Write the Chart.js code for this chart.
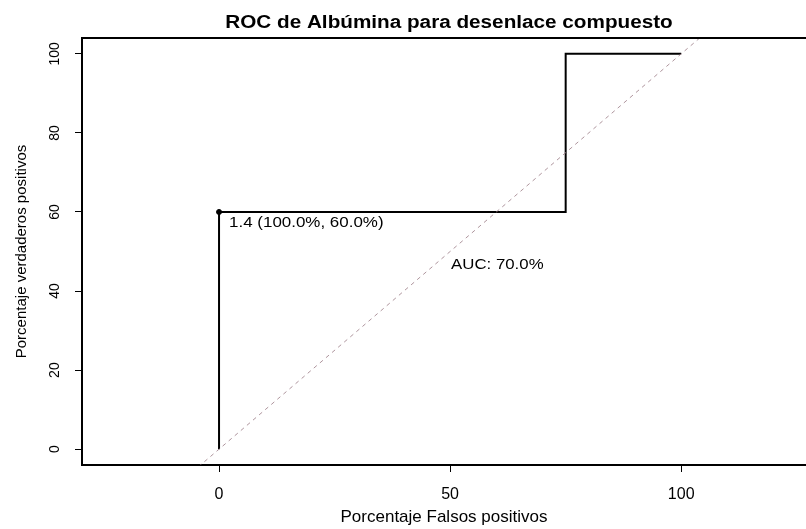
<!DOCTYPE html>
<html>
<head>
<meta charset="utf-8">
<title>ROC de Albúmina</title>
<script src="https://cdn.jsdelivr.net/npm/chart.js@4/dist/chart.umd.min.js"></script>
<style>
  html, body { margin: 0; padding: 0; background: #fff; overflow: hidden; }
  #roc { display: block; }
</style>
</head>
<body>
<canvas id="roc" width="806" height="529"></canvas>
<script>
// curva ROC: % falsos positivos vs % verdaderos positivos
const fpr = [0, 0, 75, 75, 100];
const tpr = [0, 60, 60, 100, 100];
// diagonal de referencia
const refX = [-40, 140];
const refY = [-40, 140];
// mejor umbral
const thresX = [0];
const thresY = [60];
const thresLabel = '1.4 (100.0%, 60.0%)';
const aucLabel = 'AUC: 70.0%';
const aucX = 50;
const aucY = 50;
const xTicks = [0, 50, 100];
const yTicks = [0, 20, 40, 60, 80, 100];

const titleText = 'ROC de Albúmina para desenlace compuesto';
const FONT = '"Liberation Sans", Arial, sans-serif';

const toPoints = (xs, ys) => xs.map((v, i) => ({x: v, y: ys[i]}));

// texto algo ensanchado, como sale en la figura original
function wideText(ctx, text, x, y, sx) {
    ctx.save();
    ctx.translate(x, y);
    ctx.scale(sx, 1);
    ctx.fillText(text, 0, 0);
    ctx.restore();
}

// borde superior, etiquetas del eje y, anotaciones y título
const extras = {
    id: 'extras',
    afterDraw(chart) {
        const {ctx, chartArea: a, scales: {x, y}} = chart;
        ctx.save();
        ctx.strokeStyle = '#000';
        ctx.lineWidth = 2;
        ctx.beginPath();
        ctx.moveTo(a.left - 1, a.top);
        ctx.lineTo(chart.width, a.top);
        ctx.stroke();

        ctx.fillStyle = '#000';
        ctx.font = '14px ' + FONT;
        ctx.textAlign = 'center';
        ctx.textBaseline = 'middle';
        y.ticks.forEach(t => {
            ctx.save();
            ctx.translate(y.right - 27, y.getPixelForValue(t.value));
            ctx.rotate(-Math.PI / 2);
            ctx.fillText(String(t.value), 0, 0);
            ctx.restore();
        });

        ctx.font = '15px ' + FONT;
        ctx.textAlign = 'left';
        ctx.textBaseline = 'alphabetic';
        wideText(ctx, thresLabel, x.getPixelForValue(thresX[0]) + 10, y.getPixelForValue(thresY[0]) + 15, 1.13);
        wideText(ctx, aucLabel, x.getPixelForValue(aucX) + 1, y.getPixelForValue(aucY) + 17, 1.12);

        ctx.font = 'bold 18px ' + FONT;
        ctx.textAlign = 'center';
        wideText(ctx, titleText, 449, 28, 1.15);
        ctx.restore();
    }
};

new Chart(document.getElementById('roc'), {
    type: 'scatter',
    data: {
        datasets: [
            {
                label: 'Referencia',
                data: toPoints(refX, refY),
                showLine: true,
                borderColor: 'rgba(160, 130, 140, 0.85)',
                borderWidth: 1,
                borderDash: [4, 4],
                pointRadius: 0
            },
            {
                label: 'ROC',
                data: toPoints(fpr, tpr),
                showLine: true,
                borderColor: '#000',
                borderWidth: 2,
                pointRadius: 0
            },
            {
                label: 'Umbral',
                data: toPoints(thresX, thresY),
                pointRadius: 2.5,
                pointBackgroundColor: '#000',
                pointBorderColor: '#000'
            }
        ]
    },
    options: {
        responsive: false,
        animation: false,
        layout: { autoPadding: false, padding: { top: 38, right: 0, bottom: 0, left: 0 } },
        plugins: {
            legend: { display: false },
            tooltip: { enabled: false }
        },
        scales: {
            x: {
                type: 'linear',
                min: -29.65,
                max: 127,
                afterBuildTicks: s => { s.ticks = xTicks.map(v => ({value: v})); },
                afterFit: s => { s.height = 64; },
                grid: { drawOnChartArea: false, drawTicks: true, tickLength: 7, color: '#000', lineWidth: 1 },
                border: { color: '#000', width: 2 },
                ticks: { color: '#000', padding: 13, font: { family: FONT, size: 16 }, maxRotation: 0 },
                title: {
                    display: true,
                    text: 'Porcentaje Falsos positivos',
                    color: '#000',
                    font: { family: FONT, size: 17 },
                    padding: { top: 0, bottom: 1 }
                }
            },
            y: {
                type: 'linear',
                min: -4,
                max: 104,
                afterBuildTicks: s => { s.ticks = yTicks.map(v => ({value: v})); },
                afterFit: s => { s.width = 82; },
                grid: { drawOnChartArea: false, drawTicks: true, tickLength: 7, color: '#000', lineWidth: 1 },
                border: { color: '#000', width: 2 },
                ticks: { display: false },
                title: {
                    display: true,
                    text: 'Porcentaje verdaderos positivos',
                    color: '#000',
                    font: { family: FONT, size: 15 },
                    padding: { top: 13, bottom: 0 }
                }
            }
        }
    },
    plugins: [extras]
});
</script>
</body>
</html>
